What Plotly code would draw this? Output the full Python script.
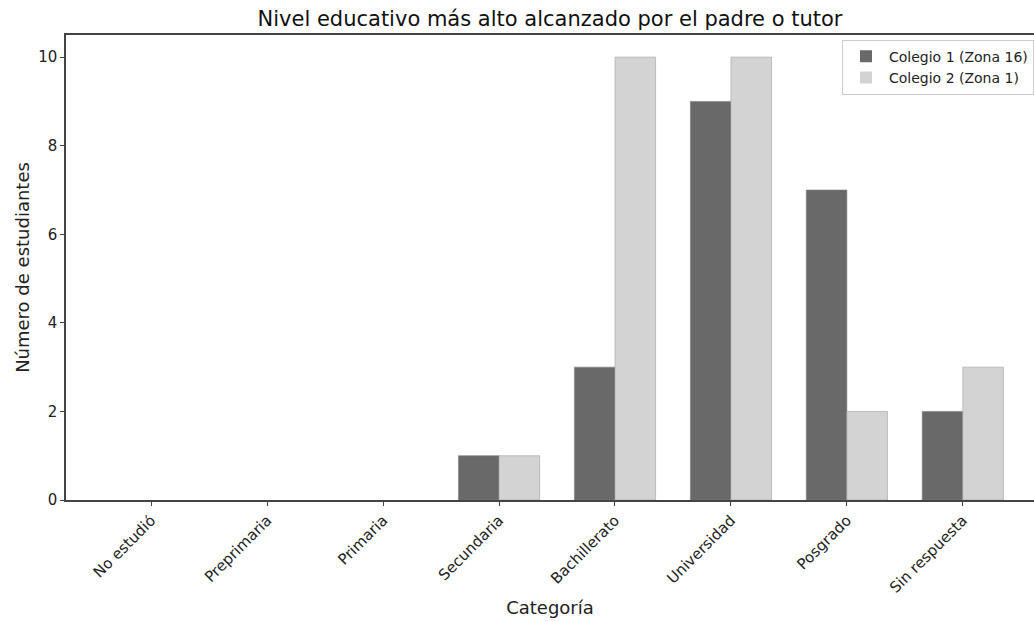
import plotly.graph_objects as go

categorias = ["No estudió", "Preprimaria", "Primaria", "Secundaria",
              "Bachillerato", "Universidad", "Posgrado", "Sin respuesta"]
colegio1 = [0, 0, 0, 1, 3, 9, 7, 2]
colegio2 = [0, 0, 0, 1, 10, 10, 2, 3]
y_ticks = [0, 2, 4, 6, 8, 10]

x_idx = list(range(len(categorias)))
font = "DejaVu Sans"

def edge_widths(vals, w=0.6):
    return [0 if v == 0 else w for v in vals]

fig = go.Figure()
fig.add_trace(go.Bar(x=x_idx, y=colegio1, name="Colegio 1 (Zona 16)",
                     marker=dict(color="#696969",
                                 line=dict(color="#808080", width=edge_widths(colegio1)))))
fig.add_trace(go.Bar(x=x_idx, y=colegio2, name="Colegio 2 (Zona 1)",
                     marker=dict(color="#d3d3d3",
                                 line=dict(color="#a0a0a0", width=edge_widths(colegio2)))))

fig.update_layout(
    width=1034, height=621,
    margin=dict(l=66, r=0, t=35, b=121),
    paper_bgcolor="white", plot_bgcolor="white",
    barmode="group", bargap=0.3, bargroupgap=0,
    font=dict(family=font, color="#222222"),
    title=dict(text="Nivel educativo más alto alcanzado por el padre o tutor",
               x=0.5, xanchor="center", xref="paper", y=0.97, yanchor="middle",
               font=dict(size=21, color="#111111")),
    xaxis=dict(tickmode="array", tickvals=x_idx, ticktext=categorias,
               tickangle=-45, range=[-0.735, 7.614],
               showline=True, linecolor="#444444", linewidth=1.5, mirror=True,
               ticks="outside", ticklen=4, tickcolor="#444444",
               showgrid=False, zeroline=False,
               tickfont=dict(size=15),
               title=dict(text="Categoría", font=dict(size=18), standoff=6)),
    yaxis=dict(tickmode="array", tickvals=y_ticks, range=[0, 10.5],
               showline=True, linecolor="#444444", linewidth=1.5,
               ticks="outside", ticklen=4, tickcolor="#444444",
               showgrid=False, zeroline=False,
               tickfont=dict(size=15),
               title=dict(text="Número de estudiantes", font=dict(size=18), standoff=4)),
    legend=dict(x=1, y=0.99, xanchor="right", yanchor="top",
                bgcolor="rgba(255,255,255,0.8)", bordercolor="#cccccc", borderwidth=1,
                font=dict(size=14), tracegroupgap=0, itemwidth=36),
    showlegend=True,
)

fig.write_html("out.html", config={"displayModeBar": False},
               post_script="document.body.style.margin='0';")
